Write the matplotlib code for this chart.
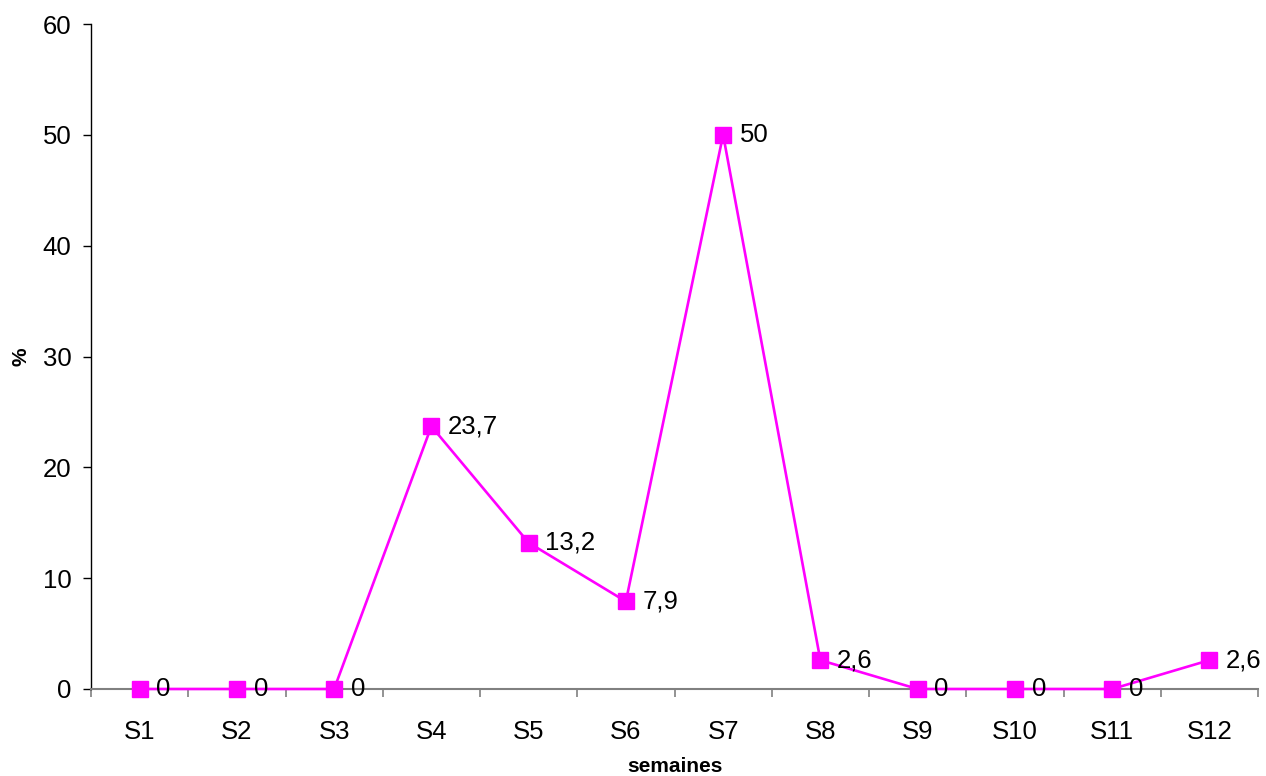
import matplotlib.pyplot as plt
import numpy as np

plt.rcParams['font.family'] = ['Liberation Sans', 'DejaVu Sans']

# Weekly percentages
semaines = ['S1', 'S2', 'S3', 'S4', 'S5', 'S6', 'S7', 'S8', 'S9', 'S10', 'S11', 'S12']
pourcentages = [0, 0, 0, 23.7, 13.2, 7.9, 50, 2.6, 0, 0, 0, 2.6]
etiquettes = ['0', '0', '0', '23,7', '13,2', '7,9', '50', '2,6', '0', '0', '0', '2,6']

fig = plt.figure(figsize=(12.66, 7.76), dpi=100)
ax = fig.add_axes([91 / 1266, 1 - 689 / 776, 1167 / 1266, 665 / 776])

x = np.arange(1, len(semaines) + 1)
ax.plot(x, pourcentages, color='#ff00ff', linewidth=1.9, marker='s',
        markersize=11.5, markerfacecolor='#ff00ff', markeredgecolor='#ff00ff',
        clip_on=False, zorder=3)

for xi, yi, txt in zip(x, pourcentages, etiquettes):
    ax.annotate(txt, (xi, yi), xytext=(12, 0), textcoords='offset points',
                ha='left', va='center', fontsize=18.5, color='black', zorder=4)

ax.set_xlim(0.5, 12.5)
ax.set_ylim(0, 60)
ax.set_yticks(np.arange(0, 61, 10))
ax.set_xticks(x)
ax.set_xticklabels(semaines)
ax.set_xticks(np.arange(0.5, 12.6, 1), minor=True)

ax.spines['top'].set_visible(False)
ax.spines['right'].set_visible(False)
ax.spines['left'].set_color('black')
ax.spines['bottom'].set_color('#808080')
ax.spines['left'].set_linewidth(1.0)
ax.spines['bottom'].set_linewidth(1.5)

ax.tick_params(axis='y', direction='out', length=6, width=1, color='black',
               labelsize=18.5, pad=8)
ax.tick_params(axis='x', which='major', length=0, labelsize=18.5, pad=22)
ax.tick_params(axis='x', which='minor', direction='out', length=6, width=1.2,
               color='#808080')

ax.set_xlabel('semaines', fontsize=15, fontweight='bold', labelpad=10)
ax.set_ylabel('%', fontsize=15, fontweight='bold')
ax.yaxis.set_label_coords(-0.0515, 0.5)

fig.savefig('out.png', dpi=100)
